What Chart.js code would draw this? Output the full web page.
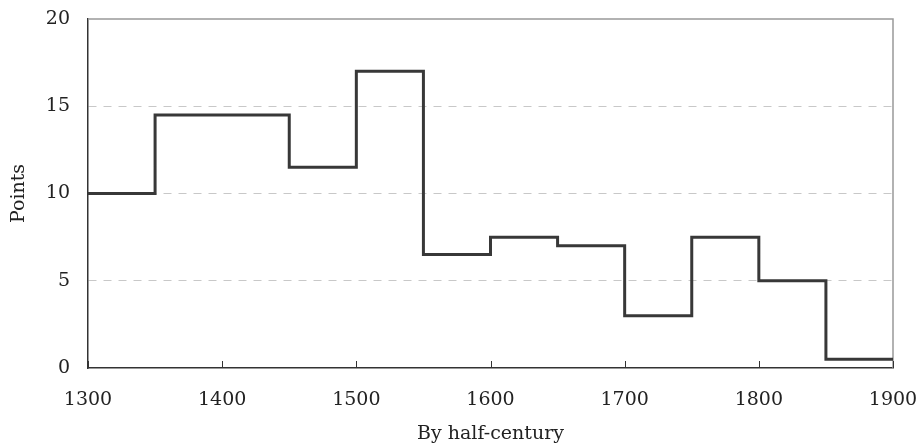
<!DOCTYPE html>
<html>
<head>
<meta charset="utf-8">
<script src="https://cdn.jsdelivr.net/npm/chart.js@4/dist/chart.umd.min.js"></script>
<style>
    html, body { margin: 0; padding: 0; background: #fff; }
    #wrap { width: 921px; height: 446px; position: relative; }
</style>
</head>
<body>
<div id="wrap"><canvas id="stepChart"></canvas></div>
<script>
// Half-century bin edges and the value held across each bin
const binEdges = [1300, 1350, 1400, 1450, 1500, 1550, 1600, 1650, 1700, 1750, 1800, 1850, 1900];
const binValues = [10, 14.5, 14.5, 11.5, 17, 6.5, 7.5, 7, 3, 7.5, 5, 0.5];
const xTicks = [1300, 1400, 1500, 1600, 1700, 1800, 1900];
const yTicks = [0, 5, 10, 15, 20];

// Step points: each edge carries the value of the bin that starts there (last edge repeats last bin)
const stepPoints = binEdges.map((x, i) => ({ x: x, y: binValues[Math.min(i, binValues.length - 1)] }));

const fontFamily = '"DejaVu Serif", "Liberation Serif", serif';

// Gray frame on top/right plus short inward tick marks on the x axis
const framePlugin = {
    id: 'framePlugin',
    beforeDatasetsDraw(chart) {
        const { ctx, chartArea: a, scales } = chart;
        ctx.save();
        ctx.strokeStyle = '#999';
        ctx.lineWidth = 1.5;
        ctx.beginPath();
        ctx.moveTo(a.left, a.top);
        ctx.lineTo(a.right, a.top);
        ctx.lineTo(a.right, a.bottom);
        ctx.stroke();

        ctx.strokeStyle = '#333';
        ctx.lineWidth = 1;
        xTicks.forEach(v => {
            const px = Math.round(scales.x.getPixelForValue(v)) + 0.5;
            ctx.beginPath();
            ctx.moveTo(px, a.bottom);
            ctx.lineTo(px, a.bottom - 7);
            ctx.stroke();
        });
        ctx.restore();
    }
};

const ctx = document.getElementById('stepChart');
new Chart(ctx, {
    type: 'line',
    data: {
        datasets: [{
            data: stepPoints,
            stepped: 'before',
            borderColor: '#383838',
            borderWidth: 3,
            pointRadius: 0,
            fill: false
        }]
    },
    options: {
        responsive: true,
        maintainAspectRatio: false,
        animation: false,
        layout: { padding: { left: 0, right: 28, top: 19, bottom: 0 } },
        plugins: {
            legend: { display: false },
            tooltip: { enabled: false }
        },
        scales: {
            x: {
                type: 'linear',
                min: 1300,
                max: 1900,
                afterBuildTicks: scale => { scale.ticks = xTicks.map(v => ({ value: v })); },
                afterFit: scale => {
                    scale.height = 78;
                    scale.paddingLeft = 0;
                    scale.paddingRight = 0;
                },
                grid: { display: false, drawTicks: false },
                border: { display: true, color: '#333', width: 1.5 },
                ticks: {
                    padding: 21,
                    maxRotation: 0,
                    color: '#222',
                    callback: v => String(v),
                    font: { family: fontFamily, size: 19 }
                },
                title: {
                    display: true,
                    text: 'By half-century',
                    color: '#222',
                    padding: { top: 0, bottom: 1 },
                    font: { family: fontFamily, size: 19 }
                }
            },
            y: {
                min: 0,
                max: 20,
                afterBuildTicks: scale => { scale.ticks = yTicks.map(v => ({ value: v })); },
                afterFit: scale => {
                    scale.width = 88;
                    scale.paddingTop = 0;
                    scale.paddingBottom = 0;
                },
                grid: {
                    color: ctx => (ctx.tick.value === 0 || ctx.tick.value === 20) ? 'rgba(0,0,0,0)' : '#c8c8c8',
                    lineWidth: 1,
                    drawTicks: false
                },
                border: { display: true, color: '#333', width: 1.5, dash: [8, 7] },
                ticks: {
                    padding: 18,
                    color: '#222',
                    font: { family: fontFamily, size: 19 }
                },
                title: {
                    display: true,
                    text: 'Points',
                    color: '#222',
                    padding: { top: 8, bottom: 0 },
                    font: { family: fontFamily, size: 19 }
                }
            }
        }
    },
    plugins: [framePlugin]
});
</script>
</body>
</html>
